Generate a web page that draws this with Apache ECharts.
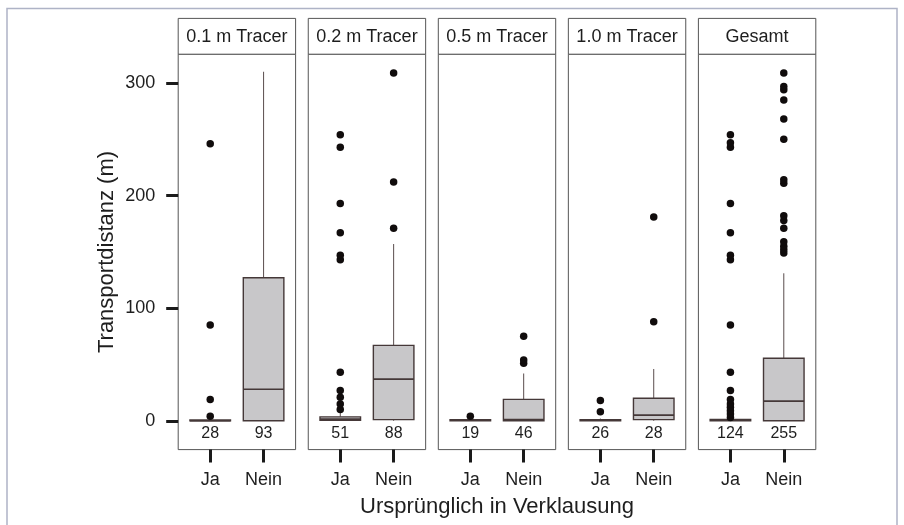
<!DOCTYPE html>
<html>
<head>
<meta charset="utf-8">
<script src="https://cdn.jsdelivr.net/npm/echarts@6/dist/echarts.min.js"></script>
<style>
html,body{margin:0;padding:0;background:#fff;}
#chart{width:904px;height:525px;}
</style>
</head>
<body>
<div id="chart"></div>
<script>
// ---- data ----
const panels = ['0.1 m Tracer', '0.2 m Tracer', '0.5 m Tracer', '1.0 m Tracer', 'Gesamt'];
const groups = ['Ja', 'Nein'];
const yTicks = [0, 100, 200, 300];
// [lower whisker, q1, median, q3, upper whisker]
const jaStats = [
  [0, 0, 0, 0.8, 1],
  [0, 0.5, 1.5, 3.5, 8],
  [0, 0, 0.5, 1, 2],
  [0, 0, 0.5, 1, 2],
  [0, 0, 0.5, 1.2, 2.5]
];
const neinStats = [
  [0, 0, 28, 127, 310],
  [0, 1, 37, 67, 157],
  [0, 0, 1, 19, 42],
  [0, 1, 5, 20, 46],
  [0, 0, 17.5, 55.5, 131]
];
const jaCounts = [28, 51, 19, 26, 124];
const neinCounts = [93, 88, 46, 28, 255];
const jaOutliers = [
  [4, 19, 85, 246],
  [10, 15, 21, 27, 43, 143, 147, 167, 193, 243, 254],
  [4],
  [8, 18],
  [3, 6, 9, 12, 15, 19, 27, 43, 85, 143, 147, 167, 193, 243, 247, 254]
];
const neinOutliers = [
  [],
  [171, 212, 309],
  [51, 54, 75],
  [88, 181],
  [149, 152, 155, 159, 171, 178, 182, 211, 214, 250, 268, 285, 294, 297, 309]
];

// ---- layout / style ----
const FONT = 'Liberation Sans, Arial, Helvetica, sans-serif';
const TXT = '#1e1e1e';
const panelLeft0 = 178.2, panelStep = 130.05, panelW = 117.4, panelTop = 54.2, panelH = 395.4;
const yMin = -25.6, yMax = 325.6;

function renderBox(params, api) {
  const x = api.value(0);
  const lo = api.coord([x, api.value(1)]);
  const q1 = api.coord([x, api.value(2)]);
  const md = api.coord([x, api.value(3)]);
  const q3 = api.coord([x, api.value(4)]);
  const hi = api.coord([x, api.value(5)]);
  const base = api.coord([x, 0]);
  const hw = api.size([0.76, 0])[0] / 2;
  const edge = '#453838';
  return {
    type: 'group',
    children: [
      {type: 'line', shape: {x1: hi[0], y1: hi[1], x2: q3[0], y2: q3[1]}, style: {stroke: '#5a4d4d', lineWidth: 1}},
      {type: 'line', shape: {x1: q1[0], y1: q1[1], x2: lo[0], y2: lo[1]}, style: {stroke: '#5a4d4d', lineWidth: 1}},
      {type: 'rect', shape: {x: q3[0] - hw, y: q3[1], width: 2 * hw, height: Math.max(q1[1] - q3[1], 0.5)},
        style: {fill: '#c8c7c9', stroke: edge, lineWidth: 1.4}},
      {type: 'line', shape: {x1: md[0] - hw, y1: md[1], x2: md[0] + hw, y2: md[1]}, style: {stroke: edge, lineWidth: 1.6}},
      {type: 'text', x: base[0], y: base[1] + 13,
        style: {text: String(api.value(6)), fill: TXT, font: '16px ' + FONT, align: 'center', verticalAlign: 'middle'}}
    ]
  };
}

const grid = [], xAxis = [], yAxis = [], series = [], graphic = [];

graphic.push({type: 'rect', silent: true, z: -10,
  shape: {x: 7, y: 8.5, width: 890, height: 540},
  style: {fill: 'none', stroke: '#aeb3c6', lineWidth: 1.5}});

panels.forEach((name, i) => {
  const left = panelLeft0 + i * panelStep;
  grid.push({left: left, top: panelTop, width: panelW, height: panelH,
    show: true, borderColor: '#555', borderWidth: 1, backgroundColor: '#fff'});
  xAxis.push({
    type: 'value', gridIndex: i, min: 0.4, max: 2.6, position: 'bottom',
    axisLine: {show: false, onZero: false},
    splitLine: {show: false},
    axisTick: {show: true, customValues: [1, 2], length: 13, lineStyle: {color: '#1a1a1a', width: 3}},
    axisLabel: {show: true, customValues: [1, 2], margin: 21, color: TXT, fontSize: 18, fontFamily: FONT,
      formatter: v => groups[Math.round(v) - 1] || ''}
  });
  yAxis.push({
    type: 'value', gridIndex: i, min: yMin, max: yMax, position: 'left',
    axisLine: {show: false, onZero: false},
    splitLine: {show: false},
    axisTick: {show: i === 0, customValues: yTicks, length: 12, lineStyle: {color: '#1a1a1a', width: 3}},
    axisLabel: {show: i === 0, customValues: yTicks, margin: 23, color: TXT, fontSize: 18, fontFamily: FONT}
  });
  series.push({
    type: 'custom', xAxisIndex: i, yAxisIndex: i,
    renderItem: renderBox,
    encode: {x: 0, y: [1, 2, 3, 4, 5]},
    data: [
      [1].concat(jaStats[i], [jaCounts[i]]),
      [2].concat(neinStats[i], [neinCounts[i]])
    ],
    silent: true, z: 2
  });
  series.push({
    type: 'scatter', xAxisIndex: i, yAxisIndex: i,
    symbolSize: 7.5,
    itemStyle: {color: '#100c0c', opacity: 1},
    data: jaOutliers[i].map(v => [1, v]).concat(neinOutliers[i].map(v => [2, v])),
    silent: true, z: 3
  });
  // strip header
  graphic.push({type: 'rect', silent: true,
    shape: {x: left, y: 18.4, width: panelW, height: panelTop - 18.4},
    style: {fill: '#fff', stroke: '#555', lineWidth: 1}});
  graphic.push({type: 'text', silent: true, x: left + panelW / 2, y: 37,
    style: {text: name, fill: TXT, font: '18px ' + FONT, align: 'center', verticalAlign: 'middle'}});
});

graphic.push({type: 'text', silent: true, x: 107, y: 252, rotation: Math.PI / 2,
  style: {text: 'Transportdistanz (m)', fill: TXT, font: '22px ' + FONT, align: 'center', verticalAlign: 'middle'}});
graphic.push({type: 'text', silent: true, x: 497, y: 507,
  style: {text: 'Ursprünglich in Verklausung', fill: TXT, font: '22px ' + FONT, align: 'center', verticalAlign: 'middle'}});

const chart = echarts.init(document.getElementById('chart'), null, {renderer: 'canvas'});
chart.setOption({
  backgroundColor: '#fff',
  animation: false,
  grid, xAxis, yAxis, series, graphic
});
</script>
</body>
</html>
